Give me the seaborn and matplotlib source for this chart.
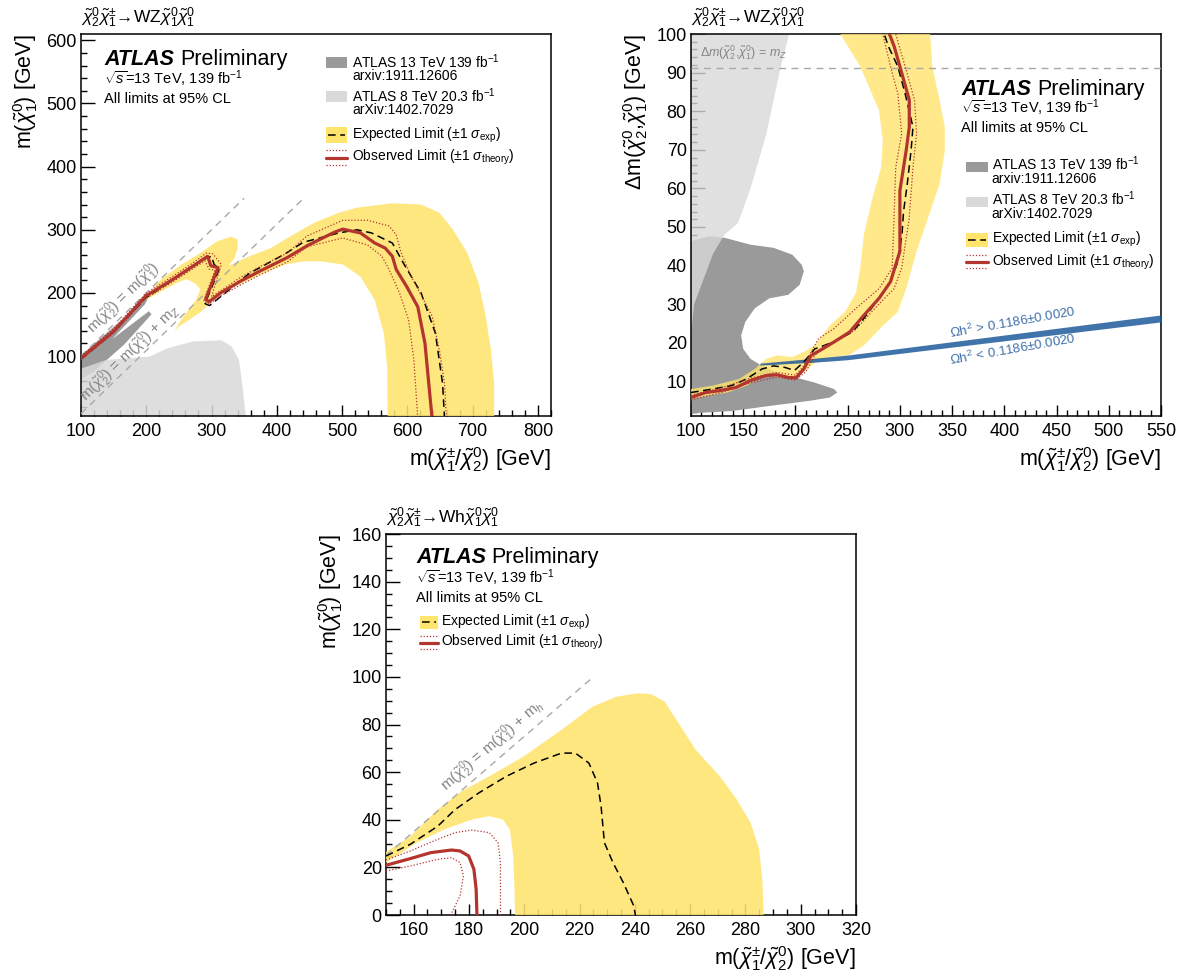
"""ATLAS electroweakino exclusion contours: WZ on-shell, WZ compressed and Wh."""

import matplotlib
matplotlib.use("Agg")
import matplotlib.pyplot as plt
import seaborn as sns
from matplotlib.patches import Rectangle
from matplotlib.ticker import MultipleLocator

# ---------------- top left: WZ on-shell ----------------
WZ_8TEV_X = [100, 100, 139, 205, 232, 271, 315, 331, 342, 347, 353]
WZ_8TEV_Y = [0, 80, 94, 99, 112, 123, 125, 115, 94, 56, 0]

WZ_13TEV_X = [100, 205, 198, 148, 204, 208, 166, 120, 100]
WZ_13TEV_Y = [101, 196, 182, 127, 171, 166, 118, 76, 63]

WZ_BAND_X = [195, 222, 253, 284, 309, 330, 340, 340, 335, 326, 358, 391, 413, 457, 495, 523,
             577, 621, 649, 670, 692, 709, 720, 728, 733, 733,
             570, 569, 564, 550, 528, 501, 468, 440, 413, 386, 358, 326, 304, 285, 265, 249, 243,
             250, 263, 276, 283, 276, 262, 245, 228, 212, 195]
WZ_BAND_Y = [190, 221, 244, 264, 282, 289, 285, 270, 255, 243, 258, 271, 285, 311, 327, 335,
             342, 340, 327, 300, 263, 216, 163, 110, 56, 0,
             0, 83, 136, 189, 226, 245, 250, 250, 245, 234, 221, 205, 190, 171, 157, 146, 139,
             152, 171, 189, 205, 214, 222, 215, 205, 196, 187]

WZ_OBS_X = [100, 151, 199, 212, 243, 268, 294, 299, 310, 291, 296, 314, 345, 375, 416, 447,
            488, 501, 528, 550, 566, 577, 583, 599, 616, 627, 638]
WZ_OBS_Y = [97, 140, 195, 203, 223, 240, 258, 243, 240, 190, 186, 200, 219, 235, 256, 275,
            296, 301, 295, 279, 271, 258, 237, 210, 178, 120, 0]

WZ_OBS_UP_X = [100, 150, 199, 243, 268, 292, 302, 315, 300, 316, 345, 375, 416, 446, 501,
               539, 572, 583, 590, 605, 622, 638, 649, 657, 660]
WZ_OBS_UP_Y = [100, 143, 199, 228, 245, 263, 262, 245, 194, 205, 225, 242, 263, 290, 315,
               315, 306, 292, 265, 228, 195, 163, 110, 56, 0]

WZ_OBS_DN_X = [100, 150, 199, 243, 268, 290, 296, 305, 288, 296, 314, 345, 375, 416, 446,
               501, 539, 561, 572, 588, 602, 610, 616]
WZ_OBS_DN_Y = [94, 136, 191, 219, 236, 251, 238, 236, 187, 182, 195, 213, 229, 249, 273,
               287, 276, 258, 237, 200, 157, 94, 0]

WZ_EXP_X = [100, 150, 199, 243, 290, 300, 304, 312, 290, 297, 315, 358, 413, 440, 495, 523,
            545, 577, 594, 621, 643, 654, 657]
WZ_EXP_Y = [95, 138, 192, 222, 254, 258, 245, 238, 183, 180, 195, 231, 262, 280, 295, 300,
            295, 279, 247, 200, 136, 56, 0]

WZ_KIN_X = [100, 350]
WZ_KIN_Y = [100, 350]
WZ_MZ_X = [100, 440]
WZ_MZ_Y = [8.8, 348.8]

# ---------------- top right: WZ compressed ----------------
CMP_8TEV_X = [100, 195, 186, 172, 157, 145, 132, 121, 110, 103, 100]
CMP_8TEV_Y = [101, 101, 91.6, 74, 60, 51, 48, 43, 35, 30, 22]

CMP_13TEV_X = [100, 117, 132, 157, 179, 197, 206, 208, 204, 193, 175, 161, 152, 148, 150, 157,
               168, 182, 200, 218, 237, 240, 233, 215, 175, 139, 114, 100]
CMP_13TEV_Y = [46.3, 47.6, 47.2, 45.4, 44.6, 42.8, 40.2, 38.5, 35, 32.4, 31.5, 28.9, 25.4, 21.9,
               18.4, 15.8, 14, 12.3, 11, 9.7, 8, 7.1, 5.8, 5, 3.6, 2.3, 1.9, 1.7]

CMP_BAND_X = [100, 121, 146, 161, 172, 182, 197, 208, 218.5, 226, 233, 247.5, 258, 262, 265.5,
              273, 282, 283.6, 280, 262, 243, 243, 329, 329, 331, 338, 343, 343, 338, 327, 316,
              306, 298, 284, 265.5, 251, 237, 222, 215, 208, 197, 186, 175, 164, 153.5, 135,
              117, 100]
CMP_BAND_Y = [8, 8.9, 10.6, 13.2, 15.8, 16.7, 16.3, 17.6, 19.3, 22, 24.5, 28, 33, 39.3, 48,
              56.7, 65.4, 72.4, 80.2, 91.6, 100, 102, 102, 100, 91.6, 82.9, 75.9, 69.8, 61.1,
              52.4, 43.7, 34, 28, 24.5, 19.3, 16.7, 16.3, 15.4, 14, 12.3, 10.8, 11, 11.5, 10.6,
              8.9, 7.1, 6.3, 5.4]

CMP_OBS_X = [100, 114, 128, 143, 157, 172, 182, 193, 200.5, 208, 215, 226, 237, 252, 265.5,
             280, 291, 300, 300, 300, 306, 309, 309, 300, 294.5, 290, 289]
CMP_OBS_Y = [5.8, 7.1, 7.6, 8.4, 10.2, 11.5, 11.7, 11, 10.9, 13.2, 16.7, 18.4, 20.2, 22.8,
             27.1, 31.5, 35.8, 43.7, 52.4, 59.4, 69.8, 75.9, 82.9, 91.6, 96.8, 100, 102]

CMP_OBS_UP_X = [100, 128, 157, 182, 200, 208, 215, 222, 237, 258, 280, 292.6, 294.4, 296,
                301.7, 298, 291, 283.6, 282]
CMP_OBS_UP_Y = [6.4, 8.2, 10.8, 12.3, 11.6, 14, 17.6, 21, 23.7, 28.9, 34, 39.3, 52.4, 65.4,
                74.2, 84.6, 91.6, 100, 102]

CMP_OBS_DN_X = [100, 128, 157, 182, 200, 210, 218.5, 229, 244, 258, 276, 294.4, 301.7, 309,
                312.5, 316, 314, 305, 296, 295]
CMP_OBS_DN_Y = [5.2, 7.0, 9.6, 11.1, 10.3, 12.5, 16.7, 19.5, 21, 23.5, 28.9, 34, 39.3, 52.4,
                65.4, 74.2, 82.9, 91.6, 100, 102]

CMP_EXP_X = [100, 121, 139, 153, 168, 179, 190, 199, 208, 218.5, 236.6, 254.6, 265.5, 280,
             291, 298, 302, 303.5, 307, 310.7, 312.5, 305, 298, 289, 285, 284]
CMP_EXP_Y = [7.1, 8, 8.9, 10.6, 13.2, 14, 13.6, 12.8, 15, 18.4, 20.2, 22.8, 26.3, 31.5, 35.8,
             41, 48, 54, 61, 69.8, 75.9, 84.6, 91.6, 96.8, 100, 102]

CMP_OMEGA_X = [166, 215, 250, 550]
CMP_OMEGA_LO = [14.2, 14.9, 15.6, 25.4]
CMP_OMEGA_HI = [14.7, 15.9, 16.8, 27.2]

CMP_MZ_X = [100, 550]
CMP_MZ_Y = [91.2, 91.2]

# ---------------- bottom: Wh ----------------
WH_BAND_X = [150, 158.8, 168.7, 177.4, 187.4, 199.8, 213.5, 224.7, 233.4, 240.8, 245.8, 250.8,
             255.8, 262, 270.7, 276.9, 281.9, 285, 286.2, 286.6,
             196.7, 196.5, 196, 194.8, 192.3, 187.4, 181, 171.2, 161.2, 150]
WH_BAND_Y = [26.5, 33, 44.3, 52, 58.3, 66.6, 77.8, 87.5, 91.7, 93.1, 92.8, 89.6,
             80.6, 69.4, 58.3, 48.5, 38.7, 27.6, 13.7, -1,
             -1, 10, 24.8, 36, 40.1, 41.5, 40.1, 36, 30.4, 22]

WH_EXP_X = [150, 158.8, 168.7, 175, 183.6, 193.6, 203.5, 213.5, 218.5, 223.4, 226.5, 227.8,
            229, 232.1, 235.8, 239.6, 240.2]
WH_EXP_Y = [24.8, 29.7, 37.3, 44.3, 51.3, 58.3, 63.8, 68, 68, 63.8, 55.5, 45.7, 30.4, 22,
            13.7, 3.9, 0]

WH_OBS_X = [150, 158.8, 166.2, 173.7, 176.8, 179.9, 181.8, 182.6, 182.9]
WH_OBS_Y = [20.9, 23.7, 26.2, 27.3, 26.9, 24.8, 19.2, 10.9, 0]

WH_OBS_UP_X = [150, 158.8, 168.7, 175, 181, 187.4, 190.5, 191.4, 191.4]
WH_OBS_UP_Y = [23.1, 26.9, 31.8, 34.6, 35.7, 34.6, 30.4, 22, 0]

WH_OBS_DN_X = [150, 158.8, 168.7, 173.7, 176.8, 178, 176.8, 173.4]
WH_OBS_DN_Y = [18.5, 20.6, 23.4, 24.1, 22, 16.4, 8.1, 0]

WH_KIN_X = [150, 225]
WH_KIN_Y = [25, 100]

# ---------------- text ----------------
LEG_13TEV = ["ATLAS 13 TeV 139 fb$^{-1}$", "arxiv:1911.12606"]
LEG_8TEV = ["ATLAS 8 TeV 20.3 fb$^{-1}$", "arXiv:1402.7029"]
LEG_EXP = r"Expected Limit ($\pm$1 $\sigma_{\mathrm{exp}}$)"
LEG_OBS = r"Observed Limit ($\pm$1 $\sigma_{\mathrm{theory}}$)"
SQRTS = r"$\sqrt{s}$=13 TeV, 139 fb$^{-1}$"
CL_TEXT = "All limits at 95% CL"

X_LABEL = r"m($\tilde{\chi}^{\pm}_{1}$/$\tilde{\chi}^{0}_{2}$) [GeV]"
Y_LABEL_M = r"m($\tilde{\chi}^{0}_{1}$) [GeV]"
Y_LABEL_DM = r"$\Delta$m($\tilde{\chi}^{0}_{2}$,$\tilde{\chi}^{0}_{1}$) [GeV]"
PROC_WZ = r"$\tilde{\chi}^{0}_{2}\tilde{\chi}^{\pm}_{1}$→WZ$\tilde{\chi}^{0}_{1}\tilde{\chi}^{0}_{1}$"
PROC_WH = r"$\tilde{\chi}^{0}_{2}\tilde{\chi}^{\pm}_{1}$→Wh$\tilde{\chi}^{0}_{1}\tilde{\chi}^{0}_{1}$"

DARK_GREY = "#9a9a9a"
LIGHT_GREY = "#d9d9d9"
YELLOW = "#ffe46e"
RED = "#b3352e"
BLUE = "#1f5b9c"
DIAG_GREY = "#a8a8a8"
NOTE_GREY = "#858585"


def line(ax, xs, ys, **kw):
    sns.lineplot(x=xs, y=ys, sort=False, estimator=None, errorbar=None, ax=ax, **kw)


def limit_lines(ax, exp, obs, up, dn):
    line(ax, exp[0], exp[1], color="black", linewidth=1.1, linestyle=(0, (5, 3)), zorder=6)
    for xs, ys in (up, dn):
        line(ax, xs, ys, color=RED, linewidth=0.9, linestyle=(0, (1, 1.5)), zorder=6)
    line(ax, obs[0], obs[1], color=RED, linewidth=2.3, zorder=7)


def style_axes(ax, xlim, ylim, xmaj, xmin, ymaj, ymin, ylabel):
    ax.set_xlim(xlim)
    ax.set_ylim(ylim)
    ax.xaxis.set_major_locator(MultipleLocator(xmaj))
    ax.xaxis.set_minor_locator(MultipleLocator(xmin))
    ax.yaxis.set_major_locator(MultipleLocator(ymaj))
    ax.yaxis.set_minor_locator(MultipleLocator(ymin))
    ax.tick_params(which="both", direction="in", top=False, right=False,
                   width=1.0, color="black")
    ax.tick_params(axis="x", which="major", length=8, pad=5, labelsize=13)
    ax.tick_params(axis="x", which="minor", length=4)
    ax.tick_params(axis="y", which="major", length=10, pad=3, labelsize=13)
    ax.tick_params(axis="y", which="minor", length=4.5)
    for s in ax.spines.values():
        s.set_visible(True)
        s.set_color("black")
        s.set_linewidth(1.1)
    ax.set_xlabel(X_LABEL, fontsize=15.5, loc="right")
    ax.xaxis.set_label_coords(1.0, -0.075)
    ax.set_ylabel(Y_LABEL_M if ylabel == "m" else Y_LABEL_DM, fontsize=15.5, loc="top")
    ax.yaxis.set_label_coords(-0.088, 1.0)
    ax.grid(False)


def atlas_block(ax, x, y_atlas, y_sqrt, y_cl):
    t = ax.text(x, y_atlas, "ATLAS", transform=ax.transAxes, fontsize=15.5,
                fontweight="bold", fontstyle="italic", va="baseline", zorder=10)
    ax.annotate("Preliminary", xy=(1, 0), xycoords=t, xytext=(4, 0),
                textcoords="offset points", fontsize=15.5, va="bottom", zorder=10)
    ax.text(x, y_sqrt, SQRTS, transform=ax.transAxes, fontsize=10.5, va="center", zorder=10)
    ax.text(x, y_cl, CL_TEXT, transform=ax.transAxes, fontsize=10.5, va="center", zorder=10)


def legend_entry(ax, kind, x0, x1, y0, y1, x_text, texts):
    tr = ax.transAxes
    ym = 0.5 * (y0 + y1)
    if kind in ("dark", "light", "exp"):
        col = {"dark": DARK_GREY, "light": LIGHT_GREY, "exp": YELLOW}[kind]
        ax.add_patch(Rectangle((x0, y0), x1 - x0, y1 - y0, transform=tr, color=col,
                               lw=0, clip_on=False, zorder=10))
    if kind == "exp":
        ax.plot([x0 + 0.004, x1 - 0.004], [ym, ym], transform=tr, color="black", lw=1.1,
                linestyle=(0, (5, 3)), clip_on=False, zorder=11)
    if kind == "obs":
        ax.plot([x0, x1], [ym, ym], transform=tr, color=RED, lw=2.3, clip_on=False, zorder=11)
        for yy in (y0, y1):
            ax.plot([x0, x1], [yy, yy], transform=tr, color=RED, lw=0.9,
                    linestyle=(0, (1, 1.5)), clip_on=False, zorder=11)
    for yt, s in texts:
        ax.text(x_text, yt, s, transform=tr, fontsize=10, va="center", zorder=11)


def draw_wz_onshell(ax):
    ax.fill(WZ_13TEV_X, WZ_13TEV_Y, color=DARK_GREY, lw=0, zorder=1)
    ax.fill(WZ_8TEV_X, WZ_8TEV_Y, color=LIGHT_GREY, alpha=0.85, lw=0, zorder=2)
    ax.fill(WZ_BAND_X, WZ_BAND_Y, color=YELLOW, alpha=0.88, lw=0, zorder=3)
    for xs, ys in ((WZ_KIN_X, WZ_KIN_Y), (WZ_MZ_X, WZ_MZ_Y)):
        line(ax, xs, ys, color=DIAG_GREY, linewidth=1.0, linestyle=(0, (5, 4)), zorder=4)
    limit_lines(ax, (WZ_EXP_X, WZ_EXP_Y), (WZ_OBS_X, WZ_OBS_Y),
                (WZ_OBS_UP_X, WZ_OBS_UP_Y), (WZ_OBS_DN_X, WZ_OBS_DN_Y))
    ax.text(166, 192, r"m($\tilde{\chi}^{0}_{2}$) = m($\tilde{\chi}^{0}_{1}$)", fontsize=11,
            color=NOTE_GREY, rotation=44, rotation_mode="anchor", ha="center", va="center",
            zorder=8)
    ax.text(176, 104, r"m($\tilde{\chi}^{0}_{2}$) = m($\tilde{\chi}^{0}_{1}$) + m$_{Z}$",
            fontsize=11, color=NOTE_GREY, rotation=44, rotation_mode="anchor", ha="center",
            va="center", zorder=8)
    style_axes(ax, (100, 820), (5, 610), 100, 20, 100, 20, "m")
    ax.text(0.0, 1.01, PROC_WZ, transform=ax.transAxes, fontsize=12.5, va="bottom")
    atlas_block(ax, 0.05, 0.919, 0.882, 0.830)
    kx0, kx1, tx = 0.521, 0.566, 0.577
    legend_entry(ax, "dark", kx0, kx1, 0.911, 0.940, tx, [(0.927, LEG_13TEV[0]), (0.890, LEG_13TEV[1])])
    legend_entry(ax, "light", kx0, kx1, 0.823, 0.852, tx, [(0.838, LEG_8TEV[0]), (0.801, LEG_8TEV[1])])
    legend_entry(ax, "exp", kx0, kx1, 0.715, 0.757, tx, [(0.736, LEG_EXP)])
    legend_entry(ax, "obs", kx0, kx1, 0.656, 0.697, tx, [(0.678, LEG_OBS)])


def draw_wz_compressed(ax):
    ax.fill(CMP_13TEV_X, CMP_13TEV_Y, color=DARK_GREY, lw=0, zorder=1)
    ax.fill(CMP_8TEV_X, CMP_8TEV_Y, color=LIGHT_GREY, alpha=0.8, lw=0, zorder=2)
    ax.fill(CMP_BAND_X, CMP_BAND_Y, color=YELLOW, alpha=0.8, lw=0, zorder=3)
    ax.fill_between(CMP_OMEGA_X, CMP_OMEGA_LO, CMP_OMEGA_HI, color=BLUE, alpha=0.85,
                    lw=0, zorder=4)
    line(ax, CMP_MZ_X, CMP_MZ_Y, color=DIAG_GREY, linewidth=1.0, linestyle=(0, (5, 4)), zorder=4)
    limit_lines(ax, (CMP_EXP_X, CMP_EXP_Y), (CMP_OBS_X, CMP_OBS_Y),
                (CMP_OBS_UP_X, CMP_OBS_UP_Y), (CMP_OBS_DN_X, CMP_OBS_DN_Y))
    ax.text(109, 94.2, r"$\Delta m$($\tilde{\chi}^{0}_{2}$,$\tilde{\chi}^{0}_{1}$) = $m_{Z}$",
            fontsize=9, color=NOTE_GREY, va="baseline", zorder=8)
    ax.text(349, 21.3, r"$\Omega$h$^{2}$ > 0.1186$\pm$0.0020", fontsize=9.5, color="#3f70aa",
            rotation=10, rotation_mode="anchor", va="baseline", zorder=8)
    ax.text(349, 14.3, r"$\Omega$h$^{2}$ < 0.1186$\pm$0.0020", fontsize=9.5, color="#3f70aa",
            rotation=10, rotation_mode="anchor", va="baseline", zorder=8)
    style_axes(ax, (100, 550), (1, 100), 50, 10, 10, 2, "dm")
    ax.text(0.0, 1.01, PROC_WZ, transform=ax.transAxes, fontsize=12.5, va="bottom")
    atlas_block(ax, 0.575, 0.840, 0.806, 0.754)
    kx0, kx1, tx = 0.585, 0.632, 0.640
    legend_entry(ax, "dark", kx0, kx1, 0.639, 0.665, tx, [(0.660, LEG_13TEV[0]), (0.620, LEG_13TEV[1])])
    legend_entry(ax, "light", kx0, kx1, 0.547, 0.573, tx, [(0.568, LEG_8TEV[0]), (0.529, LEG_8TEV[1])])
    legend_entry(ax, "exp", kx0, kx1, 0.442, 0.479, tx, [(0.463, LEG_EXP)])
    legend_entry(ax, "obs", kx0, kx1, 0.387, 0.421, tx, [(0.403, LEG_OBS)])


def draw_wh(ax):
    ax.fill(WH_BAND_X, WH_BAND_Y, color=YELLOW, alpha=0.88, lw=0, zorder=3)
    line(ax, WH_KIN_X, WH_KIN_Y, color=DIAG_GREY, linewidth=1.0, linestyle=(0, (5, 4)), zorder=4)
    limit_lines(ax, (WH_EXP_X, WH_EXP_Y), (WH_OBS_X, WH_OBS_Y),
                (WH_OBS_UP_X, WH_OBS_UP_Y), (WH_OBS_DN_X, WH_OBS_DN_Y))
    ax.text(188.5, 71, r"m($\tilde{\chi}^{0}_{2}$) = m($\tilde{\chi}^{0}_{1}$) + m$_{h}$",
            fontsize=11, color=NOTE_GREY, rotation=41, rotation_mode="anchor", ha="center",
            va="center", zorder=8)
    style_axes(ax, (150, 320), (0, 160), 20, 5, 20, 5, "m")
    ax.text(0.0, 1.01, PROC_WH, transform=ax.transAxes, fontsize=12.5, va="bottom")
    atlas_block(ax, 0.064, 0.924, 0.884, 0.833)
    kx0, kx1, tx = 0.072, 0.110, 0.116
    legend_entry(ax, "exp", kx0, kx1, 0.751, 0.785, tx, [(0.767, LEG_EXP)])
    legend_entry(ax, "obs", kx0, kx1, 0.698, 0.732, tx, [(0.715, LEG_OBS)])


def main() -> None:
    sns.set_theme(style="ticks")
    plt.rcParams["font.family"] = ["Liberation Sans", "DejaVu Sans"]
    plt.rcParams["mathtext.fontset"] = "custom"
    plt.rcParams["mathtext.rm"] = "Liberation Sans"
    plt.rcParams["mathtext.it"] = "Liberation Sans:italic"
    plt.rcParams["mathtext.bf"] = "Liberation Sans:bold"
    plt.rcParams["mathtext.sf"] = "Liberation Sans"
    plt.rcParams["text.color"] = "black"
    plt.rcParams["axes.labelcolor"] = "black"
    plt.rcParams["xtick.color"] = "black"
    plt.rcParams["ytick.color"] = "black"

    fig = plt.figure(figsize=(11.91, 9.75), dpi=100)
    fig.patch.set_facecolor("white")
    ax1 = fig.add_axes([0.0680, 0.5733, 0.3946, 0.3918])
    ax2 = fig.add_axes([0.5802, 0.5733, 0.3946, 0.3918])
    ax3 = fig.add_axes([0.3241, 0.0615, 0.3946, 0.3908])
    draw_wz_onshell(ax1)
    draw_wz_compressed(ax2)
    draw_wh(ax3)
    fig.savefig("out.png", dpi=100, facecolor="white")
    plt.close(fig)


if __name__ == "__main__":
    main()
